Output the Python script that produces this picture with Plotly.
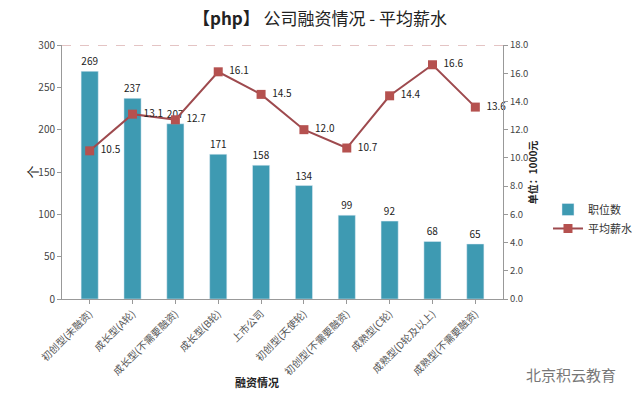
import plotly.graph_objects as go

categories = ["初创型(未融资)", "成长型(A轮)", "成长型(不需要融资)", "成长型(B轮)", "上市公司",
              "初创型(天使轮)", "初创型(不需要融资)", "成熟型(C轮)", "成熟型(D轮及以上)", "成熟型(不需要融资)"]
positions = [269, 237, 207, 171, 158, 134, 99, 92, 68, 65]
salary = [10.5, 13.1, 12.7, 16.1, 14.5, 12.0, 10.7, 14.4, 16.6, 13.6]
left_ticks = [0, 50, 100, 150, 200, 250, 300]
right_ticks = [0, 2, 4, 6, 8, 10, 12, 14, 16, 18]

font = "Noto Sans CJK SC"

fig = go.Figure()
fig.add_trace(go.Bar(
    x=categories, y=positions, name="职位数", width=0.4,
    marker=dict(color="#3E9AB2"),
    text=[str(v) for v in positions], textposition="outside",
    textfont=dict(size=10, color="#222", family=font), cliponaxis=False,
))
fig.add_trace(go.Scatter(
    x=categories, y=salary, name="平均薪水", yaxis="y2", mode="lines+markers+text",
    line=dict(color="#9E4A4E", width=2),
    marker=dict(symbol="square", size=9, color="#B5514F"),
    text=[f"  {v:.1f}" for v in salary], textposition="middle right",
    textfont=dict(size=10, color="#222", family=font), cliponaxis=False,
))

fig.update_layout(
    width=640, height=412,
    margin=dict(l=62, r=137, t=45, b=113, autoexpand=False),
    paper_bgcolor="white", plot_bgcolor="white",
    font=dict(family=font, color="#333", size=10),
    title=dict(text="<b>【php】</b> 公司融资情况 - 平均薪水", x=0.5, xanchor="center",
               y=0.954, yanchor="middle", font=dict(size=17, color="#222", family=font)),
    bargap=0.6,
    xaxis=dict(tickangle=-45, tickfont=dict(size=10, color="#555"), showline=True,
               linecolor="#999", ticks="outside", ticklen=4, tickcolor="#999",
               showgrid=False, automargin=False),
    yaxis=dict(range=[0, 300], tickvals=left_ticks, showline=True, linecolor="#999",
               ticks="outside", ticklen=4, tickcolor="#999", showgrid=False,
               tickfont=dict(size=10, color="#444"), zeroline=False, automargin=False),
    yaxis2=dict(range=[0, 18], tickvals=right_ticks, tickformat=".1f", overlaying="y",
                side="right", showline=True, linecolor="#999", ticks="outside",
                ticklen=4, tickcolor="#999", showgrid=False,
                tickfont=dict(size=9.5, color="#444"), zeroline=False, automargin=False),
    legend=dict(x=1.102, y=0.315, xanchor="left", yanchor="middle",
                font=dict(size=11, color="#333"), bgcolor="rgba(0,0,0,0)"),
    showlegend=True,
)

fig.add_shape(type="line", xref="paper", yref="y", x0=0, x1=1, y0=300, y1=300,
              line=dict(color="#C98A8A", width=1, dash="dash"))

fig.add_annotation(text="个", xref="paper", yref="paper", x=-0.095, y=0.5,
                   showarrow=False, textangle=-90, font=dict(size=13, color="#222"))
fig.add_annotation(text="<b>单位：1000元</b>", xref="paper", yref="paper", x=1.088, y=0.5,
                   showarrow=False, textangle=-90, font=dict(size=10, color="#222"))
fig.add_annotation(text="<b>融资情况</b>", xref="paper", yref="paper", x=0.442, y=-0.367,
                   showarrow=False, font=dict(size=11, color="#222"))
fig.add_annotation(text="北京积云教育", xref="paper", yref="paper", x=1.26, y=-0.346,
                   xanchor="right", showarrow=False, font=dict(size=15, color="#777"))

fig.write_html("out.html", config={"displayModeBar": False},
               post_script="document.body.style.margin='0';document.body.style.padding='0';")
